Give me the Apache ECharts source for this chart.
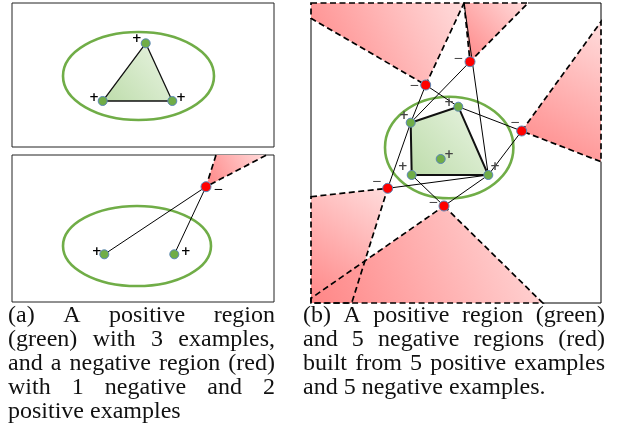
<!DOCTYPE html>
<html><head><meta charset="utf-8">
<script src="https://cdn.jsdelivr.net/npm/echarts@6/dist/echarts.min.js"></script>
<style>html,body{margin:0;padding:0;background:#fff}#c{width:618px;height:426px}</style>
</head><body><div id="c"></div>
<script>
// ---------- Panel (a) top : positive region with 3 examples ----------
const a1Triangle = [[133.7,40.3],[90.7,98],[160.3,98]];
const a1PosPoints = [[133.7,40.3],[90.7,98],[160.3,98]];
const a1Ellipse = [126.5,73,75.5,44];
const a1Signs = [[124.7,36,'+'],[82,95.3,'+'],[169,95.3,'+']];

// ---------- Panel (a) bottom : negative region ----------
const a2PosPoints = [[92.3,99.3],[162.3,99.3]];
const a2NegPoints = [[194,31.7]];
const a2NegRegion = [[204,0],[194,31.7],[254.7,0]];
const a2Links = [[[194,31.7],[92.3,99.3]],[[194,31.7],[162.3,99.3]]];
const a2Ellipse = [125,91,74,40];
const a2Signs = [[206.3,35,'\u2212'],[84.7,96.7,'+'],[173.7,96.7,'+']];

// ---------- Panel (b) ----------
const bPosPoints = [[147.3,103.7],[99.7,119.7],[100.7,172],[177.3,172],[129.7,156]];
const bNegPoints = [[114.7,82],[159,58.7],[210.7,128],[76.7,185.3],[133,203]];
const bPosRegion = [[99.7,119.7],[147.3,103.7],[177.3,172],[100.7,172]];
const bEllipse = [138.2,144.5,64.2,50.8];
const bNegRegions = [
  [[0,0],[153,0],[114.7,82],[0,15.3]],
  [[153,0],[217,0],[159,58.7]],
  [[210.7,128],[290,18.7],[290,158.7]],
  [[0,193.7],[76.7,185.3],[40.7,300],[0,300]],
  [[133,203],[231.7,300],[0,300],[0,295.3]]
];
const bLinks = [
  [[114.7,82],[147.3,103.7]], [[147.3,103.7],[210.7,128]],
  [[114.7,82],[99.7,119.7]],  [[159,58.7],[99.7,119.7]],
  [[99.7,119.7],[76.7,185.3]], [[153,0],[177.3,172]],
  [[210.7,128],[177.3,172]], [[76.7,185.3],[177.3,172]],
  [[133,203],[100.7,172]], [[133,203],[177.3,172]]
];
const bBorder = [[[217,0],[290,0],[290,18.7]],[[290,158.7],[290,300],[231.7,300]],[[0,15.3],[0,193.7]]];
const bSigns = [
  [103.3,83,'\u2212'],[147.3,56,'\u2212'],[204,120.3,'\u2212'],[65.7,178.7,'\u2212'],[122.3,200.3,'\u2212'],
  [138,99.7,'+'],[93,113,'+'],[91.7,164.3,'+'],[184,164.3,'+'],[138,152,'+']
];

// ---------- Captions ----------
const captionA = [
  {text:'(a) A positive region', justify:true},
  {text:'(green) with 3 examples,', justify:true},
  {text:'and a negative region (red)', justify:true},
  {text:'with 1 negative and 2', justify:true},
  {text:'positive examples', justify:false}
];
const captionB = [
  {text:'(b) A positive region (green)', justify:true},
  {text:'and 5 negative regions (red)', justify:true},
  {text:'built from 5 positive examples', justify:true},
  {text:'and 5 negative examples.', justify:false}
];

const PINK = () => new echarts.graphic.LinearGradient(1,0,0,1,[{offset:0,color:'#ffdcdc'},{offset:1,color:'#ff8686'}]);
const GREEN = () => new echarts.graphic.LinearGradient(1,0,0,1,[{offset:0,color:'#ebf5e5'},{offset:1,color:'#bddcaa'}]);

function idx(arr){ return arr.map((_, i) => [i, 0]); }

function polySeries(g, polys, style, z, closed){
  return {type:'custom', xAxisIndex:g, yAxisIndex:g, z, silent:true, data: idx(polys),
    renderItem(params, api){
      const pts = polys[params.dataIndex].map(p => api.coord(p));
      return {type: closed ? 'polygon' : 'polyline', shape:{points:pts}, style: style()};
    }};
}
function ellipseSeries(g, e, z){
  return {type:'custom', xAxisIndex:g, yAxisIndex:g, z, silent:true, data:[[0,0]],
    renderItem(params, api){
      const c = api.coord([e[0], e[1]]);
      const s = api.size([e[2], e[3]]);
      return {type:'ellipse', shape:{cx:c[0], cy:c[1], rx:s[0], ry:s[1]},
        style:{fill:null, stroke:'#70ad47', lineWidth:2.6}};
    }};
}
function signSeries(g, signs, color, z){
  return {type:'custom', xAxisIndex:g, yAxisIndex:g, z, silent:true, data: idx(signs),
    renderItem(params, api){
      const s = signs[params.dataIndex];
      const c = api.coord([s[0], s[1]]);
      return {type:'text', x:c[0], y:c[1], style:{text:s[2],
        font: (s[2] === '+' ? 'bold 12px' : '12px') + ' "DejaVu Sans"', fill:color,
        align:'center', verticalAlign:'middle', textAlign:'center', textVerticalAlign:'middle'}};
    }};
}
function pointSeries(g, pts, color, size, z){
  return {type:'scatter', xAxisIndex:g, yAxisIndex:g, z, silent:true, data: pts, symbolSize:size,
    itemStyle:{color, borderColor:'#5b87b8', borderWidth:1, opacity:1}};
}

const FONT = '24px "Liberation Serif"';
const mctx = document.createElement('canvas').getContext('2d');
function caption(lines, left, right, y0, dy){
  mctx.font = FONT;
  const els = [];
  lines.forEach((ln, i) => {
    const words = ln.text.split(' ');
    const w = words.map(t => mctx.measureText(t).width);
    const tot = w.reduce((a,b) => a+b, 0);
    const sp = (ln.justify && words.length > 1) ? (right-left-tot)/(words.length-1) : mctx.measureText(' ').width;
    let x = left;
    words.forEach((t, k) => {
      els.push({type:'text', x, y: y0 + i*dy, silent:true, style:{text:t, font:FONT, fill:'#111',
        verticalAlign:'middle', textVerticalAlign:'middle'}});
      x += w[k] + sp;
    });
  });
  return els;
}

const solid = () => ({fill:null, stroke:'#000', lineWidth:1});
const dashed = () => ({fill:null, stroke:'#000', lineWidth:1.7, lineDash:[6,3.5]});

const chart = echarts.init(document.getElementById('c'), null, {renderer:'canvas'});
chart.setOption({
  backgroundColor:'#fff',
  animation:false,
  grid:[
    {left:12, top:3, width:262, height:144, show:true, borderColor:'#222', borderWidth:1, backgroundColor:'#fff'},
    {left:12, top:155, width:262, height:147, show:true, borderColor:'#222', borderWidth:1, backgroundColor:'#fff'},
    {left:311, top:3, width:290, height:300, show:false}
  ],
  xAxis:[
    {gridIndex:0, type:'value', min:0, max:262, show:false},
    {gridIndex:1, type:'value', min:0, max:262, show:false},
    {gridIndex:2, type:'value', min:0, max:290, show:false}
  ],
  yAxis:[
    {gridIndex:0, type:'value', min:0, max:144, inverse:true, show:false},
    {gridIndex:1, type:'value', min:0, max:147, inverse:true, show:false},
    {gridIndex:2, type:'value', min:0, max:300, inverse:true, show:false}
  ],
  series:[
    // (a) top
    polySeries(0, [a1Triangle], () => ({fill:GREEN(), stroke:'#111', lineWidth:1.3}), 2, true),
    ellipseSeries(0, a1Ellipse, 3),
    pointSeries(0, a1PosPoints, '#70ad47', 9, 5),
    signSeries(0, a1Signs, '#000', 6),
    // (a) bottom
    polySeries(1, [a2NegRegion], () => ({fill:PINK(), stroke:null}), 1, true),
    polySeries(1, [a2NegRegion], dashed, 2, false),
    ellipseSeries(1, a2Ellipse, 3),
    polySeries(1, a2Links, solid, 4, false),
    pointSeries(1, a2PosPoints, '#70ad47', 9, 5),
    pointSeries(1, a2NegPoints, '#ff0000', 10, 5),
    signSeries(1, a2Signs, '#000', 6),
    // (b)
    polySeries(2, bNegRegions, () => ({fill:PINK(), stroke:null}), 1, true),
    polySeries(2, bBorder, solid, 2, false),
    polySeries(2, bNegRegions, dashed, 2, true),
    polySeries(2, [bPosRegion], () => ({fill:GREEN(), stroke:'#111', lineWidth:2}), 3, true),
    ellipseSeries(2, bEllipse, 3),
    polySeries(2, bLinks, solid, 4, false),
    pointSeries(2, bPosPoints, '#70ad47', 9, 5),
    pointSeries(2, bNegPoints, '#ff0000', 10, 5),
    signSeries(2, bSigns, '#444', 6)
  ],
  graphic: caption(captionA, 8, 275, 316, 24).concat(caption(captionB, 303, 605, 316, 24))
});
</script></body></html>
